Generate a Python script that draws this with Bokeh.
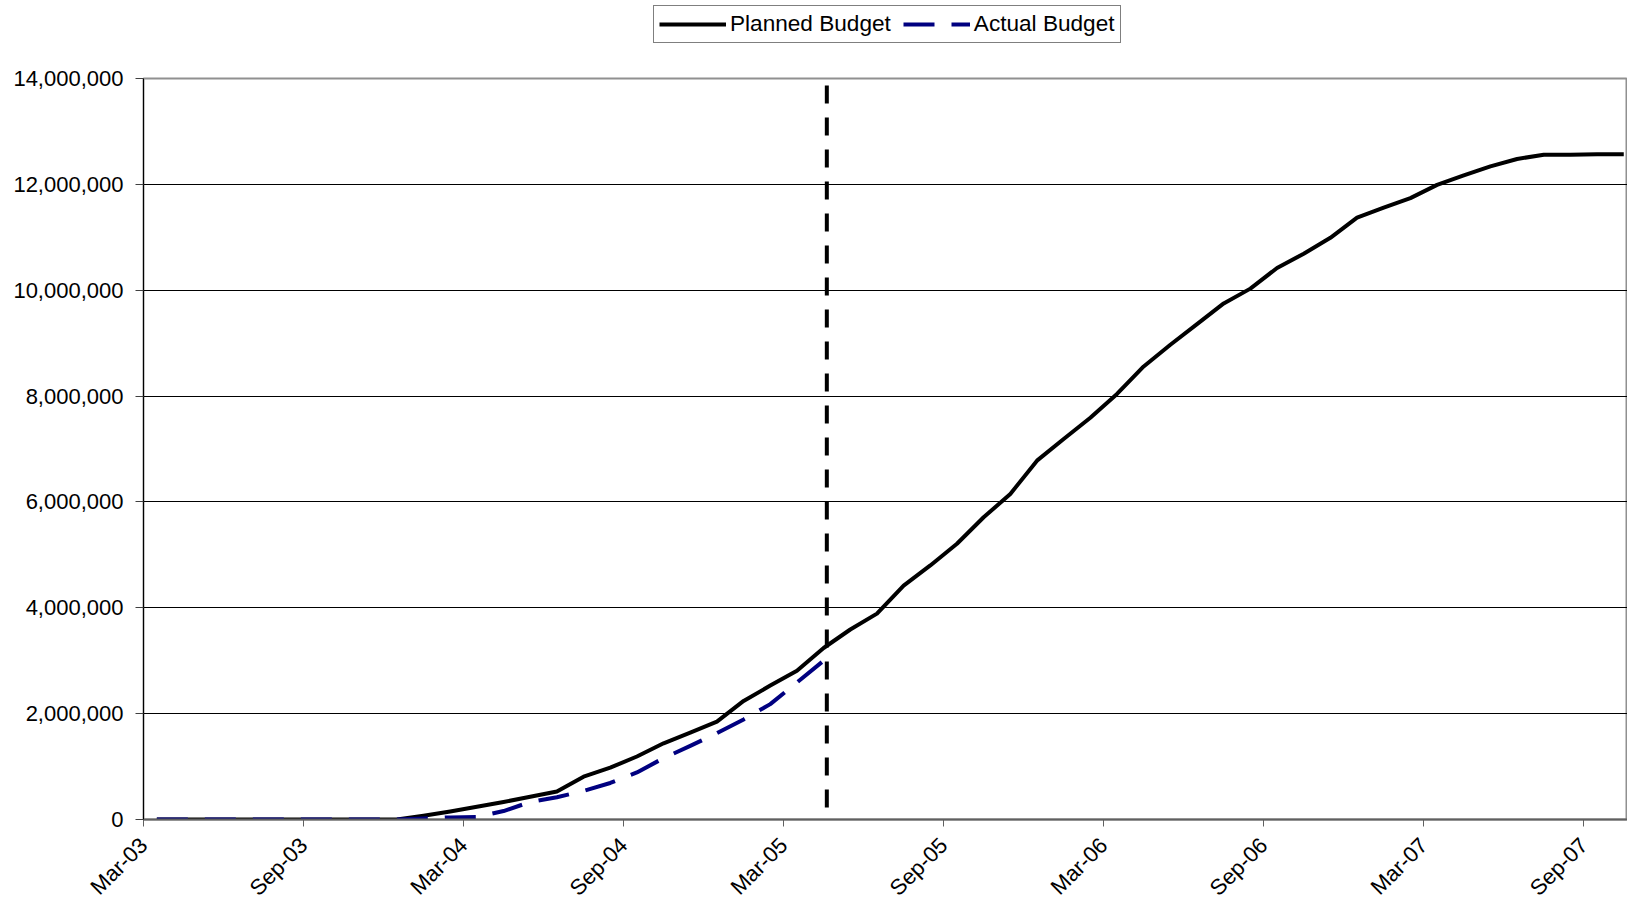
import pandas as pd
from math import pi
from bokeh.plotting import figure
from bokeh.layouts import column
from bokeh.models import Range1d, FixedTicker, NumeralTickFormatter, Legend, LegendItem
from bokeh.embed import file_html
from bokeh.resources import INLINE

# ---- data -------------------------------------------------------------
months = list(pd.date_range("2003-03-01", periods=56, freq="MS").strftime("%b-%y"))

planned = [0, 0, 0, 0, 0, 0, 0, 0, 0, 0,
           70000, 150000, 240000, 330000, 430000, 530000, 810000, 980000,
           1190000, 1440000, 1640000, 1850000, 2240000, 2530000, 2810000,
           3240000, 3590000, 3890000, 4420000, 4800000, 5210000, 5710000,
           6150000, 6780000, 7190000, 7590000, 8040000, 8560000, 8970000,
           9360000, 9750000, 10030000, 10420000, 10690000, 10990000,
           11370000, 11560000, 11740000, 11990000, 12170000, 12340000,
           12480000, 12560000, 12560000, 12570000, 12570000]

actual = [0, 0, 0, 0, 0, 0, 0, 0, 0, 0,
          20000, 40000, 50000, 160000, 330000, 420000, 540000, 690000,
          890000, 1160000, 1390000, 1630000, 1890000, 2180000, 2590000,
          3000000]

status_pos = 25.62          # report date, in months after start of Mar-03
y_ticks = [0, 2000000, 4000000, 6000000, 8000000, 10000000, 12000000, 14000000]
tick_idx = list(range(0, len(months), 6))
series_names = ["Planned Budget", "Actual Budget"]

# ---- positions (category centres) --------------------------------------
x_planned = [i + 0.5 for i in range(len(planned))]
x_actual = [i + 0.5 for i in range(len(actual))]

FONT = "Liberation Sans"
PLAN_STYLE = dict(line_color="black", line_width=4, line_join="round")
ACT_STYLE = dict(line_color="#000080", line_width=4, line_dash="31 17",
                 line_join="round")

# ---- legend strip (its own small figure above the chart) -----------------
lf = figure(width=1627, height=64, output_backend="svg", toolbar_location=None,
            x_range=Range1d(-2, -1), y_range=Range1d(-2, -1),
            x_axis_location=None, y_axis_location=None, min_border=0)
lf.grid.visible = False
lf.outline_line_color = None
lf.background_fill_color = "white"
lf.border_fill_color = "white"
lr_plan = lf.line(x_planned, planned, **PLAN_STYLE)
lr_act = lf.line(x_actual, actual, **ACT_STYLE)

legend = Legend(items=[LegendItem(label=series_names[0], renderers=[lr_plan]),
                       LegendItem(label=series_names[1], renderers=[lr_act])],
                orientation="horizontal", location=(510, 21))
legend.label_text_font = FONT
legend.label_text_font_size = "22.6px"
legend.label_text_color = "black"
legend.glyph_width = 67
legend.glyph_height = 22
legend.label_height = 22
legend.label_standoff = 4
legend.spacing = 12
legend.padding = 5
legend.margin = 0
legend.border_line_color = "black"
legend.border_line_width = 1
legend.background_fill_color = "white"
legend.background_fill_alpha = 1
lf.add_layout(legend, "center")

# ---- main chart -------------------------------------------------------------
p = figure(width=1627, height=848, output_backend="svg", toolbar_location=None,
           x_range=Range1d(0, 55.64), y_range=Range1d(0, 14000000),
           min_border_left=143, min_border_top=14, min_border_bottom=93,
           min_border_right=0)
p.background_fill_color = "white"
p.border_fill_color = "white"
p.outline_line_color = "#909090"
p.outline_line_width = 2

p.xaxis.ticker = FixedTicker(ticks=tick_idx)
p.xaxis.major_label_overrides = {k: months[k] for k in tick_idx}
p.xaxis.major_label_orientation = pi / 4
p.xaxis.minor_tick_line_color = None
p.xaxis.axis_line_color = "#606060"
p.xaxis.axis_line_width = 2
p.xaxis.major_tick_line_color = "#606060"
p.xaxis.major_tick_out = 7
p.xaxis.major_tick_in = 0
p.xaxis.major_label_standoff = 15

p.yaxis.ticker = FixedTicker(ticks=y_ticks)
p.yaxis.formatter = NumeralTickFormatter(format="0,0")
p.yaxis.minor_tick_line_color = None
p.yaxis.axis_line_color = "black"
p.yaxis.major_tick_line_color = "#404040"
p.yaxis.major_tick_out = 8
p.yaxis.major_tick_in = 0
p.yaxis.major_label_standoff = 12

for ax in (p.xaxis, p.yaxis):
    ax.major_label_text_font = FONT
    ax.major_label_text_font_size = "22px"
    ax.major_label_text_color = "black"

p.xgrid.grid_line_color = None
p.ygrid.grid_line_color = "black"
p.ygrid.grid_line_width = 1

p.line(x_planned, planned, **PLAN_STYLE)
p.line(x_actual, actual, **ACT_STYLE)
# report-date marker, drawn from top to bottom
p.line([status_pos, status_pos], [y_ticks[-1], y_ticks[0]], line_color="black",
       line_width=4, line_dash="18 14", line_dash_offset=25)

layout = column(lf, p, spacing=0)
open("out.html", "w").write(file_html(layout, INLINE))
